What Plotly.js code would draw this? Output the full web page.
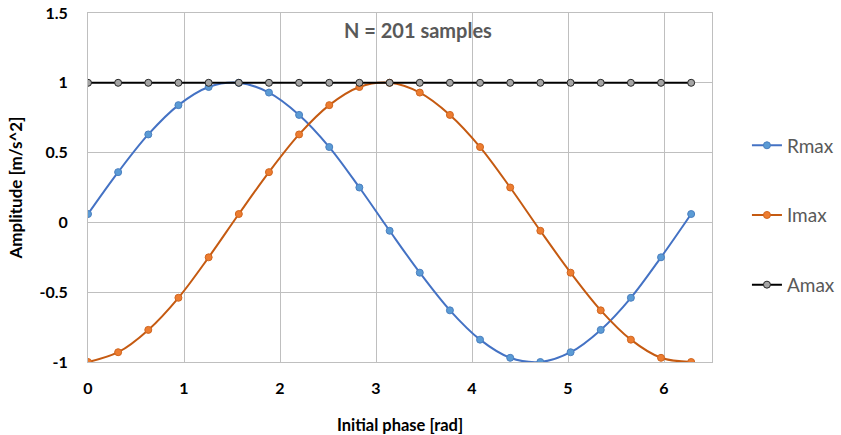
<!DOCTYPE html>
<html>
<head>
<meta charset="utf-8">
<script src="https://cdn.plot.ly/plotly-3.0.1.min.js"></script>
<style>html,body{margin:0;padding:0;background:#fff;}#chart{width:841px;height:435px;}</style>
</head>
<body>
<div id="chart"></div>
<script>
const phase = [0, 0.314, 0.628, 0.942, 1.257, 1.571, 1.885, 2.199, 2.513, 2.827, 3.142, 3.456, 3.770, 4.084, 4.398, 4.712, 5.027, 5.341, 5.655, 5.969, 6.283];
const rmax = [0.06, 0.36, 0.63, 0.84, 0.97, 1.0, 0.93, 0.77, 0.54, 0.25, -0.06, -0.36, -0.63, -0.84, -0.97, -1.0, -0.93, -0.77, -0.54, -0.25, 0.06];
const imax = [-1.0, -0.93, -0.77, -0.54, -0.25, 0.06, 0.36, 0.63, 0.84, 0.97, 1.0, 0.93, 0.77, 0.54, 0.25, -0.06, -0.36, -0.63, -0.84, -0.97, -1.0];
const amax = [1, 1, 1, 1, 1, 1, 1, 1, 1, 1, 1, 1, 1, 1, 1, 1, 1, 1, 1, 1, 1];
const xTicks = [0, 1, 2, 3, 4, 5, 6];
const yTicks = [-1, -0.5, 0, 0.5, 1, 1.5];
const yTickText = ['-1', '-0.5', '0', '0.5', '1', '1.5'];

const FONT = 'Lato, "Open Sans", sans-serif';

function tr(name, y, lineColor, markerColor, markerLine, group) {
  return {
    x: phase, y: y, name: name, type: 'scatter', mode: 'lines+markers',
    legendgroup: group,
    line: {color: lineColor, width: 2, shape: 'spline', smoothing: 1},
    marker: {color: markerColor, size: 7, line: {color: markerLine, width: 1}}
  };
}

const data = [
  tr('Rmax', rmax, '#4472C4', '#5B9BD5', '#4A7FC0', 'a'),
  tr('Imax', imax, '#C55A11', '#ED7D31', '#D0651E', 'b'),
  tr('Amax', amax, '#000000', '#A5A5A5', '#262626', 'c')
];

const layout = {
  width: 841, height: 435,
  margin: {l: 88, r: 129, t: 13, b: 73, autoexpand: false},
  paper_bgcolor: '#ffffff', plot_bgcolor: '#ffffff',
  font: {family: FONT, color: '#000000'},
  showlegend: true,
  legend: {
    x: 1.056, xanchor: 'left', y: 0.42, yanchor: 'middle',
    font: {family: FONT, size: 19, color: '#595959'},
    tracegroupgap: 42, itemwidth: 30
  },
  xaxis: {
    range: [0, 6.5], tickvals: xTicks, ticktext: xTicks.map(String),
    showgrid: true, gridcolor: '#BFBFBF', gridwidth: 1,
    zeroline: false, showline: true, linecolor: '#BFBFBF', linewidth: 1, mirror: true,
    ticks: '', ticklen: 0, ticklabelstandoff: 12,
    tickfont: {family: FONT, size: 16, color: '#000000', weight: 'bold'},
    title: {text: '<b>Initial phase [rad]</b>', font: {family: FONT, size: 16.5, color: '#000000'}, standoff: 26}
  },
  yaxis: {
    range: [-1, 1.5], tickvals: yTicks, ticktext: yTickText,
    showgrid: true, gridcolor: '#BFBFBF', gridwidth: 1,
    zeroline: false, showline: true, linecolor: '#BFBFBF', linewidth: 1, mirror: true,
    ticks: '', ticklen: 0, ticklabelstandoff: 16,
    tickfont: {family: FONT, size: 16, color: '#000000', weight: 'bold'},
    title: {text: '<b>Amplitude [m/s^2]</b>', font: {family: FONT, size: 17, color: '#000000'}, standoff: 12}
  },
  annotations: [{
    text: '<b>N = 201 samples</b>', xref: 'paper', yref: 'paper',
    x: 0.529, y: 0.95, xanchor: 'center', yanchor: 'middle', showarrow: false,
    font: {family: FONT, size: 20, color: '#595959'}
  }]
};

Plotly.newPlot('chart', data, layout, {displayModeBar: false, responsive: false});
</script>
</body>
</html>
